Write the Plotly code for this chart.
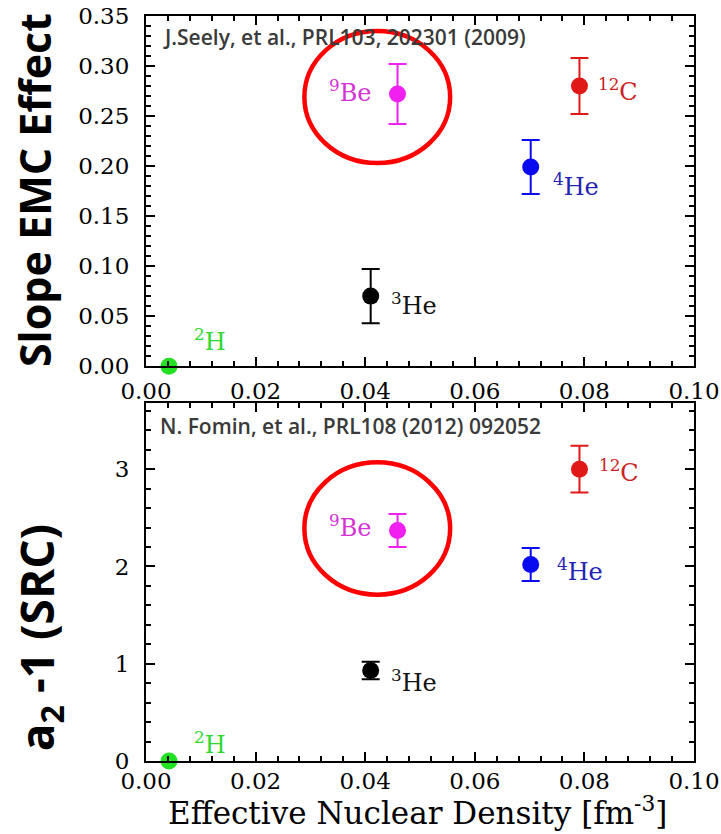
import plotly.graph_objects as go

# ---------------- data ----------------
nuclei = ["2H", "3He", "9Be", "4He", "12C"]
label_html = ["<sup>2</sup>H", "<sup>3</sup>He", "<sup>9</sup>Be", "<sup>4</sup>He", "<sup>12</sup>C"]
density = [0.0042, 0.0410, 0.0459, 0.0702, 0.0791]
emc_slope = [0.000, 0.070, 0.272, 0.199, 0.280]
emc_err = [0.0, 0.027, 0.030, 0.027, 0.028]
src_a2 = [0.00, 0.93, 2.37, 2.02, 3.00]
src_err = [0.0, 0.09, 0.17, 0.17, 0.24]
marker_colors = ["#22e022", "#000000", "#f020f0", "#0a0af0", "#e01818"]
label_colors = ["#30d830", "#111111", "#d633d6", "#2424b4", "#cc2222"]

x_ticks = [0.00, 0.02, 0.04, 0.06, 0.08, 0.10]
emc_ticks = [0.00, 0.05, 0.10, 0.15, 0.20, 0.25, 0.30, 0.35]
src_ticks = [0, 1, 2, 3]

ref_top = "J.Seely, et al., PRL103, 202301 (2009)"
ref_bot = "N. Fomin, et al., PRL108 (2012) 092052"
x_title = "Effective Nuclear Density [fm<sup>-3</sup>]"

# label offsets in px (xshift, yshift, xanchor) per nucleus, per panel
top_offsets = [(23, 26, "left"), (18, -8, "left"), (-24, 3, "right"), (20, -18, "left"), (17, -4, "left")]
bot_offsets = [(23, 18, "left"), (18, -10, "left"), (-24, 4, "right"), (24, -5, "left"), (18, -2, "left")]

# highlight ellipses around 9Be (data coords: x0, x1, y0, y1)
hl_top = [0.0289, 0.0555, 0.203, 0.335]
hl_bot = [0.0289, 0.0555, 1.71, 3.07]

fig = go.Figure()

for i, n in enumerate(nuclei):
    fig.add_trace(go.Scatter(
        x=[density[i]], y=[emc_slope[i]], mode="markers",
        marker=dict(size=17, color=marker_colors[i]),
        error_y=dict(type="data", array=[emc_err[i]], visible=emc_err[i] > 0,
                     color=marker_colors[i], thickness=2, width=9),
        xaxis="x", yaxis="y", showlegend=False, cliponaxis=False, name=n))
    fig.add_trace(go.Scatter(
        x=[density[i]], y=[src_a2[i]], mode="markers",
        marker=dict(size=17, color=marker_colors[i]),
        error_y=dict(type="data", array=[src_err[i]], visible=src_err[i] > 0,
                     color=marker_colors[i], thickness=2, width=9),
        xaxis="x2", yaxis="y2", showlegend=False, cliponaxis=False, name=n))

annotations = []
for i, n in enumerate(nuclei):
    xs, ys, xa = top_offsets[i]
    annotations.append(dict(x=density[i], y=emc_slope[i], xref="x", yref="y",
                            text=label_html[i], showarrow=False, xanchor=xa, yanchor="middle",
                            xshift=xs, yshift=ys,
                            font=dict(family="DejaVu Serif", size=24, color=label_colors[i])))
    xs, ys, xa = bot_offsets[i]
    annotations.append(dict(x=density[i], y=src_a2[i], xref="x2", yref="y2",
                            text=label_html[i], showarrow=False, xanchor=xa, yanchor="middle",
                            xshift=xs, yshift=ys,
                            font=dict(family="DejaVu Serif", size=24, color=label_colors[i])))

annotations += [
    dict(x=0.028, y=0.972, xref="paper", yref="paper", text=ref_top, showarrow=False,
         xanchor="left", yanchor="middle",
         font=dict(family="Open Sans", size=21, color="#3a3a3a", weight=600)),
    dict(x=0.022, y=0.449, xref="paper", yref="paper", text=ref_bot, showarrow=False,
         xanchor="left", yanchor="middle",
         font=dict(family="Open Sans", size=21, color="#3a3a3a", weight=600)),
    dict(x=-0.203, y=0.766, xref="paper", yref="paper", text="Slope EMC Effect",
         showarrow=False, textangle=-90, xanchor="center", yanchor="middle",
         font=dict(family="Open Sans", size=43, color="#000000", weight=700)),
    dict(x=-0.195, y=0.165, xref="paper", yref="paper", text="a<sub>2</sub> -1 (SRC)",
         showarrow=False, textangle=-90, xanchor="center", yanchor="middle",
         font=dict(family="Open Sans", size=46, color="#000000", weight=700)),
    dict(x=0.495, y=-0.0966, xref="paper", yref="paper", text=x_title,
         showarrow=False, xanchor="center", yanchor="bottom",
         font=dict(family="DejaVu Serif", size=31, color="#000000")),
]

shapes = [
    dict(type="circle", xref="x", yref="y", x0=hl_top[0], x1=hl_top[1], y0=hl_top[2], y1=hl_top[3],
         line=dict(color="#ff0000", width=4.5)),
    dict(type="circle", xref="x2", yref="y2", x0=hl_bot[0], x1=hl_bot[1], y0=hl_bot[2], y1=hl_bot[3],
         line=dict(color="#ff0000", width=4.5)),
]

tick_font = dict(family="DejaVu Serif", size=23, color="#000000")
common = dict(showline=True, linecolor="#000000", linewidth=2, mirror="allticks",
              ticks="inside", ticklen=9, tickwidth=1.5, tickcolor="#000000",
              showgrid=False, zeroline=False, tickfont=tick_font, automargin=False)

fig.update_layout(
    width=721, height=834,
    margin=dict(l=146, r=27, t=16, b=73),
    paper_bgcolor="white", plot_bgcolor="white",
    xaxis=dict(domain=[0, 1], anchor="y", range=[0, 0.1], tickvals=x_ticks, tickformat=".2f",
               minor=dict(ticks="inside", dtick=0.004, tick0=0, ticklen=5, tickcolor="#000000", tickwidth=1.5),
               ticklabelstandoff=3, **common),
    yaxis=dict(domain=[0.530, 1], anchor="x", range=[0, 0.35], tickvals=emc_ticks, tickformat=".2f",
               minor=dict(ticks="inside", dtick=0.01, tick0=0, ticklen=5, tickcolor="#000000", tickwidth=1.5),
               ticklabelstandoff=10, **common),
    xaxis2=dict(domain=[0, 1], anchor="y2", range=[0, 0.1], tickvals=x_ticks, tickformat=".2f",
                minor=dict(ticks="inside", dtick=0.004, tick0=0, ticklen=5, tickcolor="#000000", tickwidth=1.5),
                ticklabelstandoff=-2, **common),
    yaxis2=dict(domain=[0, 0.4805], anchor="x2", range=[0, 3.68], tickvals=src_ticks,
                minor=dict(ticks="inside", dtick=0.2, tick0=0, ticklen=5, tickcolor="#000000", tickwidth=1.5),
                ticklabelstandoff=10, **common),
    annotations=annotations,
    shapes=shapes,
)

fig.write_html("out.html")
